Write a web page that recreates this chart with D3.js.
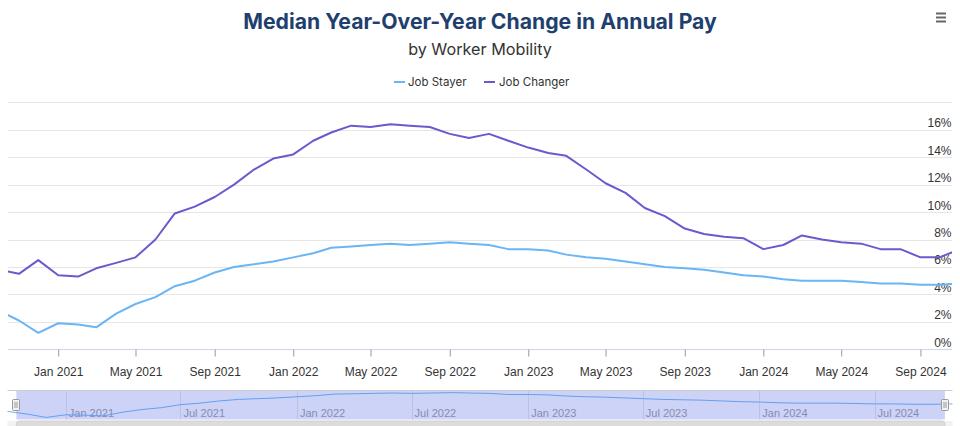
<!DOCTYPE html>
<html>
<head>
<meta charset="utf-8">
<script src="https://cdn.jsdelivr.net/npm/d3@7"></script>
<style>
  html, body { margin: 0; padding: 0; background: #fff; }
  svg { display: block; }
</style>
</head>
<body>
<svg id="chart" width="960" height="426"></svg>
<script>
// ---- Data (monthly, first of month) ----
const months = [
  "2020-10","2020-11","2020-12",
  "2021-01","2021-02","2021-03","2021-04","2021-05","2021-06","2021-07","2021-08","2021-09","2021-10","2021-11","2021-12",
  "2022-01","2022-02","2022-03","2022-04","2022-05","2022-06","2022-07","2022-08","2022-09","2022-10","2022-11","2022-12",
  "2023-01","2023-02","2023-03","2023-04","2023-05","2023-06","2023-07","2023-08","2023-09","2023-10","2023-11","2023-12",
  "2024-01","2024-02","2024-03","2024-04","2024-05","2024-06","2024-07","2024-08","2024-09","2024-10","2024-11"
];
const jobStayer = [
  2.8, 2.1, 1.2,
  1.9, 1.8, 1.6, 2.6, 3.3, 3.8, 4.6, 5.0, 5.6, 6.0, 6.2, 6.4,
  6.7, 7.0, 7.4, 7.5, 7.6, 7.7, 7.6, 7.7, 7.8, 7.7, 7.6, 7.3,
  7.3, 7.2, 6.9, 6.7, 6.6, 6.4, 6.2, 6.0, 5.9, 5.8, 5.6, 5.4,
  5.3, 5.1, 5.0, 5.0, 5.0, 4.9, 4.8, 4.8, 4.7, 4.7, 4.8
];
const jobChanger = [
  5.8, 5.5, 6.5,
  5.4, 5.3, 5.9, 6.3, 6.7, 8.0, 9.9, 10.4, 11.1, 12.0, 13.1, 13.9,
  14.2, 15.2, 15.8, 16.3, 16.2, 16.4, 16.3, 16.2, 15.7, 15.4, 15.7, 15.2,
  14.7, 14.3, 14.1, 13.1, 12.1, 11.4, 10.3, 9.7, 8.8, 8.4, 8.2, 8.1,
  7.3, 7.6, 8.3, 8.0, 7.8, 7.7, 7.3, 7.3, 6.7, 6.7, 7.3
];
const seriesNames = ["Job Stayer", "Job Changer"];
const seriesColors = ["#6bb5f5", "#6a5acd"];
const yTicks = [0, 2, 4, 6, 8, 10, 12, 14, 16, 18];
const xTickMonths = ["2021-01","2021-05","2021-09","2022-01","2022-05","2022-09","2023-01","2023-05","2023-09","2024-01","2024-05","2024-09"];
const navTickMonths = ["2021-01","2021-07","2022-01","2022-07","2023-01","2023-07","2024-01","2024-07"];

const parse = s => { const [y, m] = s.split("-").map(Number); return new Date(Date.UTC(y, m - 1, 1)); };
const dates = months.map(parse);
const series = [jobStayer, jobChanger].map((vals, i) => ({
  name: seriesNames[i], color: seriesColors[i],
  values: vals.map((v, j) => ({ date: dates[j], value: v }))
}));

const svg = d3.select("#chart");
const axisFont = "'Liberation Sans', Arial, Helvetica, sans-serif";
const titleFont = "Inter, 'Noto Sans', sans-serif";

// ---- Scales ----
const plot = { left: 8, right: 952, top: 102.3, bottom: 349.3 };
const x = d3.scaleUtc()
  .domain([new Date(Date.UTC(2020, 9, 15)), new Date(Date.UTC(2024, 9, 20))])
  .range([plot.left, plot.right]);
const y = d3.scaleLinear().domain([0, 18]).range([plot.bottom, plot.top]);

// ---- Title, subtitle ----
svg.append("text").attr("x", 480).attr("y", 29).attr("text-anchor", "middle")
  .attr("font-family", titleFont).attr("font-weight", 700).attr("font-size", 21.2)
  .attr("fill", "#213f6e").text("Median Year-Over-Year Change in Annual Pay");
svg.append("text").attr("x", 480).attr("y", 55).attr("text-anchor", "middle")
  .attr("font-family", titleFont).attr("font-size", 16.2)
  .attr("fill", "#333").text("by Worker Mobility");

// menu icon
const menu = svg.append("g").attr("stroke", "#666").attr("stroke-width", 2);
[13.5, 17.5, 21.5].forEach(yy => menu.append("line").attr("x1", 936).attr("x2", 946).attr("y1", yy).attr("y2", yy));

// ---- Legend ----
const legendItems = [{ x: 394, tx: 408 }, { x: 484, tx: 499 }];
series.forEach((s, i) => {
  const g = svg.append("g");
  g.append("line").attr("x1", legendItems[i].x).attr("x2", legendItems[i].x + 11)
    .attr("y1", 82).attr("y2", 82).attr("stroke", s.color).attr("stroke-width", 2);
  g.append("text").attr("x", legendItems[i].tx).attr("y", 86)
    .attr("font-family", titleFont).attr("font-size", 11.5).attr("fill", "#333").text(s.name);
});

// ---- Grid + y labels ----
const grid = svg.append("g");
yTicks.forEach(t => {
  grid.append("line").attr("x1", plot.left).attr("x2", plot.right)
    .attr("y1", Math.round(y(t)) + 0.5).attr("y2", Math.round(y(t)) + 0.5)
    .attr("stroke", t === 0 ? "none" : "#e6e6e6").attr("stroke-width", 1);
});
const yAxisG = svg.append("g").attr("transform", `translate(${plot.right - 0.5},0)`)
  .call(d3.axisLeft(y).tickValues(yTicks.filter(t => t < 18)).tickSize(0).tickFormat(d => d + "%"));
yAxisG.select(".domain").remove();
yAxisG.selectAll("text").attr("font-family", axisFont).attr("font-size", 12)
  .attr("fill", "#333").attr("dy", -3).attr("dx", 0).attr("x", 0);

// ---- X axis ----
const xAxisG = svg.append("g").attr("transform", `translate(0,${Math.round(plot.bottom) + 0.5})`)
  .call(d3.axisBottom(x).tickValues(xTickMonths.map(parse)).tickSize(7).tickPadding(11)
    .tickFormat(d3.utcFormat("%b %Y")));
xAxisG.select(".domain").attr("stroke", "#ccd6eb").attr("d", `M${plot.left},0H${plot.right}`);
xAxisG.selectAll(".tick line").attr("stroke", "#999");
xAxisG.selectAll("text").attr("font-family", axisFont).attr("font-size", 12).attr("fill", "#333");

// ---- Lines ----
svg.append("clipPath").attr("id", "plotClip").append("rect")
  .attr("x", plot.left).attr("y", 90).attr("width", plot.right - plot.left).attr("height", 262);
const line = d3.line().x(d => x(d.date)).y(d => y(d.value));
const linesG = svg.append("g").attr("clip-path", "url(#plotClip)");
series.forEach(s => {
  linesG.append("path").datum(s.values).attr("d", line).attr("fill", "none")
    .attr("stroke", s.color).attr("stroke-width", 2).attr("stroke-linejoin", "round");
});

// ---- Navigator ----
const nav = { left: 7.5, right: 952.5, top: 390, bottom: 419.5 };
const nx = d3.scaleUtc()
  .domain([parse("2020-10"), parse("2024-11")])
  .range([nav.left, nav.right]);
const ny = d3.scaleLinear().domain([0.65, 8.5]).range([nav.bottom, nav.top]);
const navG = svg.append("g");
navTickMonths.map(parse).forEach(d => {
  navG.append("line").attr("x1", Math.round(nx(d)) + 0.5).attr("x2", Math.round(nx(d)) + 0.5)
    .attr("y1", nav.top).attr("y2", nav.bottom).attr("stroke", "#e6e6e6");
  navG.append("text").attr("x", nx(d) + 3).attr("y", 417)
    .attr("font-family", axisFont).attr("font-size", 11).attr("fill", "#999")
    .text(d3.utcFormat("%b %Y")(d));
});
const navLine = d3.line().x(d => nx(d.date)).y(d => ny(d.value));
navG.append("path").datum(series[0].values).attr("d", navLine).attr("fill", "none")
  .attr("stroke", seriesColors[0]).attr("stroke-width", 1);
// mask of the selected range
const selL = nx(x.domain()[0]), selR = nx(x.domain()[1]);
navG.append("rect").attr("x", selL).attr("y", nav.top).attr("width", selR - selL)
  .attr("height", nav.bottom - nav.top).attr("fill", "rgba(90,110,230,0.3)");
// outline
navG.append("path").attr("d", `M${nav.left},${nav.top + 0.5}H${nav.right}`)
  .attr("stroke", "#cccccc").attr("stroke-width", 1);
// handles
[selL, selR].forEach(hx => {
  const h = navG.append("g").attr("transform", `translate(${Math.round(hx)},0)`);
  h.append("rect").attr("x", -3.5).attr("y", 399.5).attr("width", 7).attr("height", 11)
    .attr("rx", 1).attr("fill", "#f2f2f2").attr("stroke", "#999");
  h.append("line").attr("x1", -1).attr("x2", -1).attr("y1", 402).attr("y2", 408).attr("stroke", "#999");
  h.append("line").attr("x1", 1).attr("x2", 1).attr("y1", 402).attr("y2", 408).attr("stroke", "#999");
});
// scrollbar
navG.append("rect").attr("x", nav.left).attr("y", 421).attr("width", nav.right - nav.left).attr("height", 14)
  .attr("fill", "#f2f2f2");
navG.append("rect").attr("x", selL).attr("y", 421).attr("width", selR - selL).attr("height", 14)
  .attr("rx", 3).attr("fill", "#dcdcdc").attr("stroke", "#d0d0d0");
</script>
</body>
</html>
